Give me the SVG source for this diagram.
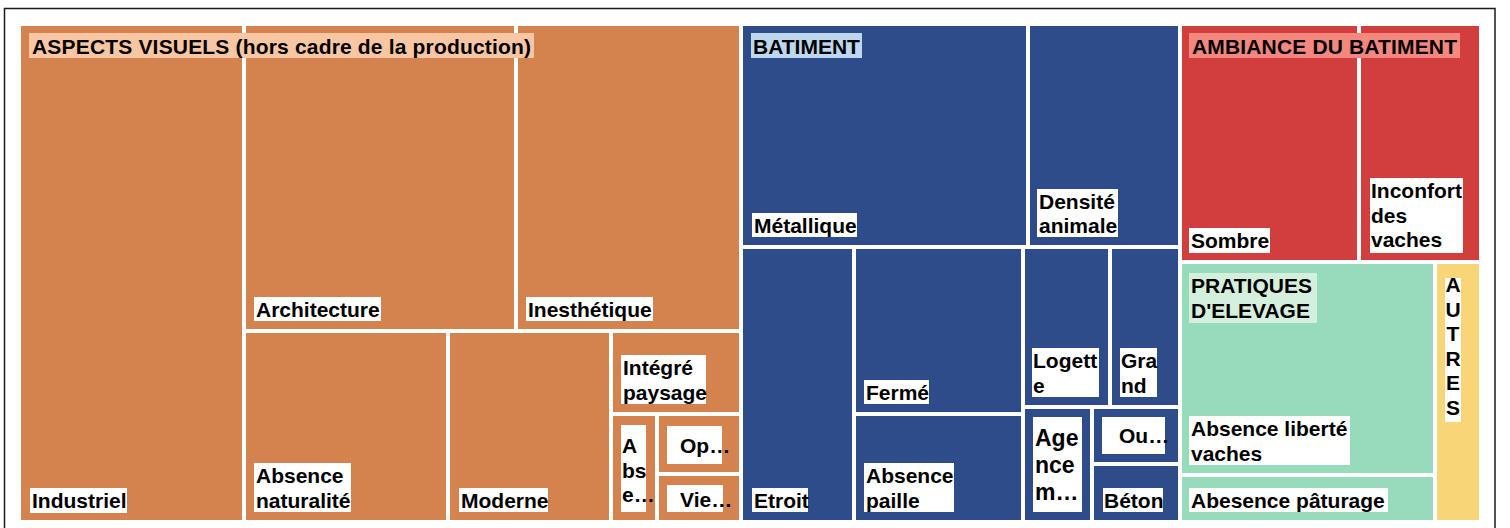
<svg xmlns="http://www.w3.org/2000/svg" width="1510" height="528" viewBox="0 0 1510 528">
<style>
  text { font-family: "Liberation Sans", Arial, sans-serif; font-weight: bold; font-size: 21px; fill: #000; }
  .or { fill: #D4834F; }
  .bl { fill: #2D4C89; }
  .rd { fill: #D23E3E; }
  .gr { fill: #96DCBA; }
  .ye { fill: #F8D677; }
  .lb { fill: #FFFFFF; }
  .h-or { fill: #F8C6A3; }
  .h-bl { fill: #BDD7EE; }
  .h-rd { fill: #F4877E; }
  .h-gr { fill: #D4EFDC; }
</style>
<rect x="0" y="0" width="1510" height="528" fill="#FFFFFF"/>
<path d="M4.5,530 V8.5 H1495 V530" fill="none" stroke="#1a1a1a" stroke-width="1.5"/>

<!-- ASPECTS VISUELS -->
<g id="industriel">
  <rect class="or" x="21" y="26" width="221" height="494"/>
  <rect class="lb" x="30" y="488" width="97" height="25"/>
  <text x="32" y="508">Industriel</text>
</g>
<g id="architecture">
  <rect class="or" x="246" y="26" width="268" height="303"/>
  <rect class="lb" x="254" y="297" width="127" height="24"/>
  <text x="256" y="317">Architecture</text>
</g>
<g id="inesthetique">
  <rect class="or" x="518" y="26" width="221" height="303"/>
  <rect class="lb" x="526" y="297" width="127" height="24"/>
  <text x="528" y="317">Inesthétique</text>
</g>
<g id="absence-naturalite">
  <rect class="or" x="246" y="333" width="200" height="187"/>
  <rect class="lb" x="254" y="463" width="97" height="49"/>
  <text x="256" y="483">Absence</text>
  <text x="256" y="507.5">naturalité</text>
</g>
<g id="moderne">
  <rect class="or" x="450" y="333" width="159" height="187"/>
  <rect class="lb" x="459" y="488" width="89" height="24"/>
  <text x="461" y="508">Moderne</text>
</g>
<g id="integre-paysage">
  <rect class="or" x="613" y="333" width="126" height="79"/>
  <rect class="lb" x="621" y="355" width="85" height="49"/>
  <text x="623" y="375">Intégré</text>
  <text x="623" y="399.5">paysage</text>
</g>
<g id="abse">
  <rect class="or" x="613" y="416" width="42" height="104"/>
  <rect class="lb" x="621" y="425" width="25" height="87"/>
  <text x="622" y="453">A</text>
  <text x="622" y="477.5">bs</text>
  <text x="622" y="502">e…</text>
</g>
<g id="op">
  <rect class="or" x="659" y="416" width="80" height="56"/>
  <rect class="lb" x="667" y="426" width="55" height="38"/>
  <text x="680" y="453">Op…</text>
</g>
<g id="vie">
  <rect class="or" x="659" y="476" width="80" height="44"/>
  <rect class="lb" x="667" y="485" width="56" height="27"/>
  <text x="680" y="507">Vie…</text>
</g>
<g id="aspects-visuels">
  <rect class="h-or" x="29" y="33" width="505" height="25"/>
  <text x="32" y="53.5" textLength="499" lengthAdjust="spacing">ASPECTS VISUELS (hors cadre de la production)</text>
</g>

<!-- BATIMENT -->
<g id="metallique">
  <rect class="bl" x="743" y="26" width="283" height="219"/>
  <rect class="lb" x="752" y="213" width="105" height="24"/>
  <text x="754" y="233">Métallique</text>
</g>
<g id="densite-animale">
  <rect class="bl" x="1030" y="26" width="148" height="219"/>
  <rect class="lb" x="1037" y="189" width="81" height="48"/>
  <text x="1039" y="209">Densité</text>
  <text x="1039" y="233">animale</text>
</g>
<g id="etroit">
  <rect class="bl" x="743" y="249" width="109" height="271"/>
  <rect class="lb" x="752" y="488" width="56" height="24"/>
  <text x="754" y="508">Etroit</text>
</g>
<g id="ferme">
  <rect class="bl" x="856" y="249" width="165" height="163"/>
  <rect class="lb" x="864" y="380" width="65" height="24"/>
  <text x="866" y="400">Fermé</text>
</g>
<g id="absence-paille">
  <rect class="bl" x="856" y="416" width="165" height="104"/>
  <rect class="lb" x="864" y="463" width="90" height="49"/>
  <text x="866" y="483">Absence</text>
  <text x="866" y="507.5">paille</text>
</g>
<g id="logette">
  <rect class="bl" x="1025" y="249" width="83" height="156"/>
  <rect class="lb" x="1032" y="348" width="67" height="49"/>
  <text x="1033" y="368">Logett</text>
  <text x="1033" y="392.5">e</text>
</g>
<g id="grand">
  <rect class="bl" x="1112" y="249" width="66" height="156"/>
  <rect class="lb" x="1120" y="348" width="37" height="49"/>
  <text x="1121" y="368">Gra</text>
  <text x="1121" y="392.5">nd</text>
</g>
<g id="agencement">
  <rect class="bl" x="1025" y="409" width="65" height="111"/>
  <rect class="lb" x="1033" y="417" width="49" height="95"/>
  <text x="1035" y="446" style="font-size:23px">Age</text>
  <text x="1035" y="473" style="font-size:23px">nce</text>
  <text x="1035" y="500" style="font-size:23px">m…</text>
</g>
<g id="ou">
  <rect class="bl" x="1094" y="409" width="84" height="53"/>
  <rect class="lb" x="1102" y="417" width="63" height="37"/>
  <text x="1119" y="443">Ou…</text>
</g>
<g id="beton">
  <rect class="bl" x="1094" y="466" width="84" height="54"/>
  <rect class="lb" x="1103" y="488" width="60" height="24"/>
  <text x="1104" y="508">Béton</text>
</g>
<g id="batiment">
  <rect class="h-bl" x="751" y="33" width="111" height="25"/>
  <text x="753" y="53.5">BATIMENT</text>
</g>

<!-- AMBIANCE DU BATIMENT -->
<g id="sombre">
  <rect class="rd" x="1182" y="26" width="175" height="234"/>
  <rect class="lb" x="1189" y="228" width="81" height="25"/>
  <text x="1191" y="248">Sombre</text>
</g>
<g id="inconfort">
  <rect class="rd" x="1361" y="26" width="118" height="234"/>
  <rect class="lb" x="1370" y="178" width="93" height="75"/>
  <text x="1371" y="198">Inconfort</text>
  <text x="1371" y="222.5">des</text>
  <text x="1371" y="247">vaches</text>
</g>
<g id="ambiance">
  <rect class="h-rd" x="1189" y="33" width="271" height="25"/>
  <text x="1192" y="53.5" textLength="265" lengthAdjust="spacing">AMBIANCE DU BATIMENT</text>
</g>

<!-- PRATIQUES D'ELEVAGE -->
<g id="absence-liberte">
  <rect class="gr" x="1182" y="264" width="251" height="209"/>
  <rect class="lb" x="1189" y="416" width="161" height="49"/>
  <text x="1191" y="436">Absence liberté</text>
  <text x="1191" y="460.5">vaches</text>
</g>
<g id="absence-paturage">
  <rect class="gr" x="1182" y="477" width="251" height="43"/>
  <rect class="lb" x="1189" y="488" width="199" height="24"/>
  <text x="1191" y="508">Abesence pâturage</text>
</g>
<g id="pratiques">
  <rect class="h-gr" x="1189" y="273" width="128" height="50"/>
  <text x="1191" y="293">PRATIQUES</text>
  <text x="1191" y="317.5">D'ELEVAGE</text>
</g>

<!-- AUTRES -->
<g id="autres">
  <rect class="ye" x="1437" y="264" width="42" height="256"/>
  <rect class="lb" x="1445" y="278" width="16" height="144"/>
  <text x="1453" y="292" text-anchor="middle">A</text>
  <text x="1453" y="316.5" text-anchor="middle">U</text>
  <text x="1453" y="341" text-anchor="middle">T</text>
  <text x="1453" y="365.5" text-anchor="middle">R</text>
  <text x="1453" y="390" text-anchor="middle">E</text>
  <text x="1453" y="414.5" text-anchor="middle">S</text>
</g>
</svg>
